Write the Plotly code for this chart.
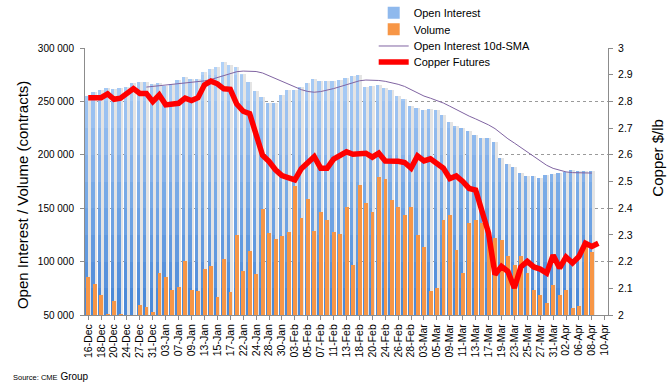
import plotly.graph_objects as go

dates = [
    "16-Dec", "17-Dec", "18-Dec", "19-Dec", "20-Dec", "23-Dec", "24-Dec", "26-Dec", "27-Dec", "30-Dec", "31-Dec",
    "02-Jan", "03-Jan", "06-Jan", "07-Jan", "08-Jan", "09-Jan", "10-Jan", "13-Jan", "14-Jan", "15-Jan", "16-Jan",
    "17-Jan", "21-Jan", "22-Jan", "23-Jan", "24-Jan", "27-Jan", "28-Jan", "29-Jan", "30-Jan", "31-Jan",
    "03-Feb", "04-Feb", "05-Feb", "06-Feb", "07-Feb", "10-Feb", "11-Feb", "12-Feb", "13-Feb", "14-Feb",
    "18-Feb", "19-Feb", "20-Feb", "21-Feb", "24-Feb", "25-Feb", "26-Feb", "27-Feb", "28-Feb",
    "02-Mar", "03-Mar", "04-Mar", "05-Mar", "06-Mar", "09-Mar", "10-Mar", "11-Mar", "12-Mar", "13-Mar",
    "16-Mar", "17-Mar", "18-Mar", "19-Mar", "20-Mar", "23-Mar", "24-Mar", "25-Mar", "26-Mar", "27-Mar",
    "30-Mar", "31-Mar", "01-Apr", "02-Apr", "03-Apr", "06-Apr", "07-Apr", "08-Apr", "09-Apr", "10-Apr",
]
tick_labels = dates[::2]

open_interest = [
    255400, 258800, 260700, 262600, 261600, 262600, 263500, 267300, 268200, 268200,
    266300, 267300, 264500, 266300, 270100, 272900, 271000, 271000, 277500, 280400,
    282200, 286900, 284100, 282200, 275700, 268200, 260100, 254200, 248600, 248600,
    256000, 260700, 260700, 263500, 267300, 271000, 269100, 269100, 269100, 270100,
    271900, 273800, 274700, 263200, 264500, 265400, 262600, 261000, 255100, 252300,
    246100, 243900, 242000, 242900, 242000, 237300, 230800, 227000, 225100, 222400,
    218600, 215800, 215800, 212100, 197100, 191500, 188700, 183100, 180300, 180300,
    178400, 181200, 182100, 183100, 184000, 185900, 184700, 184700, 184700, None, None,
]

volume = [
    85800, 79300, 69000, 51200, 63400, 51200, 45000, 42000, 59600, 57700,
    53100, 89500, 85800, 73600, 76400, 100800, 73600, 72700, 93300, 96100,
    67100, 102600, 71800, 125100, 91400, 110100, 88600, 149400, 127000, 121300,
    124200, 127900, 170900, 141000, 158800, 128800, 146600, 139100, 127300, 126000,
    151000, 97000, 171700, 155000, 146600, 179300, 177500, 157800, 151300, 143800,
    151300, 125100, 113900, 72100, 75700, 139100, 143800, 111100, 89500, 136300,
    139100, 136500, 125000, 122300, 120400, 105400, 97000, 105400, 89500, 73600,
    69000, 61500, 78300, 69000, 73600, 56800, 58700, 116500, 109200, None, None,
]

oi_sma10 = [None] * 9 + [
    263400, 264000, 264600, 265300, 265800, 266300, 266900, 267500, 268200, 269200,
    270500, 272200, 274000, 276000, 277800, 278400, 278400, 278000, 276600, 274000,
    271200, 268700, 266300, 263500, 261000, 259300, 258600, 259200, 260400, 262000,
    263800, 265800, 267800, 269300, 270000, 270000, 269600, 268800, 267600, 266000,
    264000, 261000, 257600, 255000, 253000, 251000, 248500, 245500, 242300, 239300,
    236200, 233600, 231000, 228000, 224500, 219500, 215000, 211000, 206800, 202400,
    198000, 193800, 190200, 187300, 185300, 184000, 183300, 183000, 182900, 182900,
] + [None, None]

copper = [
    2.814, 2.814, 2.814, 2.828, 2.808, 2.812, 2.828, 2.848, 2.830, 2.830,
    2.799, 2.824, 2.787, 2.789, 2.793, 2.812, 2.803, 2.814, 2.862, 2.876,
    2.866, 2.847, 2.845, 2.790, 2.763, 2.754, 2.681, 2.598, 2.575, 2.544,
    2.522, 2.514, 2.506, 2.548, 2.574, 2.593, 2.550, 2.550, 2.584, 2.600,
    2.611, 2.602, 2.602, 2.606, 2.591, 2.606, 2.577, 2.577, 2.576, 2.571,
    2.550, 2.596, 2.577, 2.585, 2.569, 2.550, 2.511, 2.521, 2.500, 2.474,
    2.468, 2.394, 2.307, 2.151, 2.182, 2.163, 2.101, 2.180, 2.201, 2.180,
    2.172, 2.157, 2.224, 2.176, 2.217, 2.195, 2.219, 2.269, 2.257, 2.269, None,
]

FONT = "Arial, 'Liberation Sans', sans-serif"

fig = go.Figure()

# soft shadow to the right of each open-interest column
fig.add_trace(go.Bar(
    x=dates, y=open_interest, offset=-0.08, width=0.5,
    marker=dict(color="#e4e4e4", line=dict(width=0)),
    showlegend=False, hoverinfo="skip",
))

# open-interest columns with a vertical light-to-dark blue gradient
levels = list(range(300000, 50000, -25000))
top_rgb = (176, 209, 248)
bot_rgb = (76, 138, 216)
n = len(levels)
for k, lev in enumerate(levels):
    t = k / (n - 1)
    c = tuple(int(round(top_rgb[j] + (bot_rgb[j] - top_rgb[j]) * t)) for j in range(3))
    fig.add_trace(go.Bar(
        x=dates,
        y=[None if v is None else min(v, lev) for v in open_interest],
        offset=-0.5, width=0.5,
        marker=dict(color="rgb(%d,%d,%d)" % c, line=dict(width=0)),
        name="Open Interest", legendgroup="oi", legend="legend2",
        showlegend=(k == 3), hoverinfo="skip" if k else None,
    ))

fig.add_trace(go.Bar(
    x=dates, y=volume, offset=-0.27, width=0.6,
    marker=dict(color="#f79646", line=dict(width=0)),
    name="Volume", legend="legend3",
))

fig.add_trace(go.Scatter(
    x=dates, y=oi_sma10, mode="lines",
    line=dict(color="#8064a2", width=1),
    name="Open Interest 10d-SMA", legend="legend",
))

fig.add_trace(go.Scatter(
    x=dates, y=copper, mode="lines", yaxis="y2",
    line=dict(color="#ff0000", width=5.5),
    name="Copper Futures", legend="legend4",
))

left_ticks = list(range(50000, 300001, 50000))
right_ticks = [round(2 + 0.1 * i, 1) for i in range(11)]

def leg(ypos, bg):
    return dict(
        x=0.552, y=ypos, xanchor="left", yanchor="top",
        bgcolor=bg, borderwidth=0,
        font=dict(size=11, family=FONT),
    )

fig.update_layout(
    width=669, height=388,
    margin=dict(l=85, r=61, t=48, b=73, autoexpand=False),
    paper_bgcolor="white", plot_bgcolor="white",
    barmode="overlay", bargap=0,
    font=dict(family=FONT, color="#000000", size=11),
    xaxis=dict(
        type="category", categoryorder="array", categoryarray=dates,
        range=[-0.5, len(dates) - 0.5],
        tickmode="array", tickvals=tick_labels, ticktext=tick_labels,
        tickangle=-90, tickfont=dict(size=10.5, family=FONT),
        showline=True, linecolor="#8c8c8c", linewidth=1,
        ticks="outside", ticklen=4, tickcolor="#8c8c8c",
        showgrid=False, zeroline=False, automargin=False,
    ),
    yaxis=dict(
        range=[50000, 300000],
        tickmode="array", tickvals=left_ticks,
        ticktext=["%d %03d" % (v // 1000, v % 1000) for v in left_ticks],
        tickfont=dict(size=10, family=FONT),
        showline=True, linecolor="#8c8c8c", linewidth=1,
        ticks="outside", ticklen=4, tickcolor="#8c8c8c",
        ticklabelstandoff=4,
        showgrid=True, gridcolor="#9a9a9a", gridwidth=1, griddash="dot",
        zeroline=False, automargin=False,
    ),
    yaxis2=dict(
        overlaying="y", side="right", range=[2, 3],
        tickmode="array", tickvals=right_ticks,
        ticktext=[("%g" % v) for v in right_ticks],
        tickfont=dict(size=10.5, family=FONT),
        showline=True, linecolor="#8c8c8c", linewidth=1,
        ticks="outside", ticklen=4, tickcolor="#8c8c8c",
        ticklabelstandoff=3,
        showgrid=False, zeroline=False, automargin=False,
    ),
    legend=leg(1.0618, "white"),
    legend2=leg(1.1865, "rgba(0,0,0,0)"),
    legend3=leg(1.1243, "rgba(0,0,0,0)"),
    legend4=leg(1.0019, "rgba(0,0,0,0)"),
    annotations=[
        dict(text="Open Interest / Volume (contracts)", textangle=-90,
             xref="paper", yref="paper", x=-0.1205, y=0.449,
             xanchor="center", yanchor="middle", showarrow=False,
             font=dict(size=15, family=FONT)),
        dict(text="Copper $/lb", textangle=-90,
             xref="paper", yref="paper", x=1.094, y=0.59,
             xanchor="center", yanchor="middle", showarrow=False,
             font=dict(size=15, family=FONT)),
        dict(text="<span style='font-size:7.5px'>Source: CME</span> Group",
             xref="paper", yref="paper", x=-0.142, y=-0.232,
             xanchor="left", yanchor="middle", showarrow=False,
             font=dict(size=10, family=FONT)),
    ],
)

fig.write_html(
    "out.html",
    config={"displayModeBar": False},
    post_script="document.body.style.margin='0';document.body.style.overflow='hidden';",
)
